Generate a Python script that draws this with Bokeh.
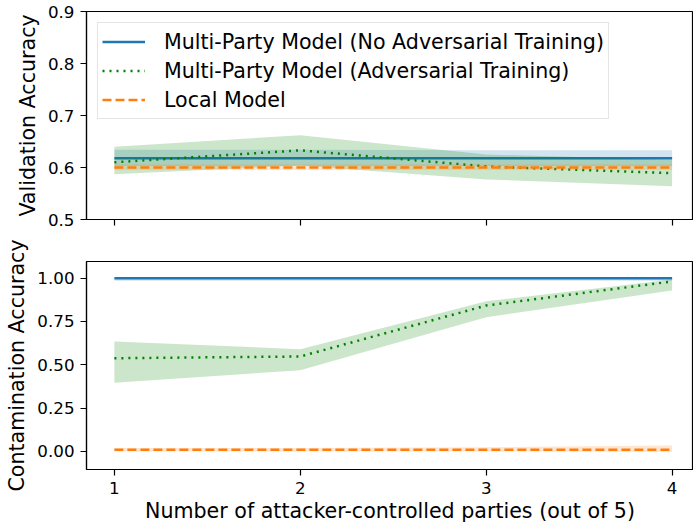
from bokeh.plotting import figure
from bokeh.layouts import column
from bokeh.models import Range1d, FixedTicker
from bokeh.embed import file_html
from bokeh.resources import INLINE

# ---- data ----
parties = [1, 2, 3, 4]
x_tick_labels = ["1", "2", "3", "4"]

series_names = ["Multi-Party Model (No Adversarial Training)",
                "Multi-Party Model (Adversarial Training)",
                "Local Model"]

# Validation accuracy
val_no_adv = [0.618, 0.618, 0.618, 0.618]
val_no_adv_lo = [0.603, 0.603, 0.603, 0.603]
val_no_adv_hi = [0.634, 0.634, 0.633, 0.633]
val_adv = [0.610, 0.633, 0.602, 0.589]
val_adv_lo = [0.587, 0.604, 0.577, 0.564]
val_adv_hi = [0.640, 0.662, 0.625, 0.615]
val_local = [0.600, 0.600, 0.600, 0.600]
val_local_lo = [0.595, 0.595, 0.595, 0.595]
val_local_hi = [0.606, 0.606, 0.606, 0.606]

# Contamination accuracy
con_no_adv = [1.000, 1.000, 1.000, 1.000]
con_no_adv_lo = [0.985, 0.985, 0.985, 0.985]
con_no_adv_hi = [1.000, 1.000, 1.000, 1.000]
con_adv = [0.538, 0.548, 0.842, 0.981]
con_adv_lo = [0.396, 0.469, 0.775, 0.929]
con_adv_hi = [0.635, 0.590, 0.867, 0.992]
con_local = [0.010, 0.010, 0.010, 0.010]
con_local_lo = [0.000, 0.000, 0.000, -0.003]
con_local_hi = [0.020, 0.020, 0.025, 0.035]

val_ticks = [0.5, 0.6, 0.7, 0.8, 0.9]
val_tick_labels = ["0.5", "0.6", "0.7", "0.8", "0.9"]
con_ticks = [0.0, 0.25, 0.5, 0.75, 1.0]
con_tick_labels = ["0.00", "0.25", "0.50", "0.75", "1.00"]

# ---- style ----
BLUE = "#1f77b4"
GREEN = "#008000"
ORANGE = "#ff7f0e"
FONT = "DejaVu Sans"
LW = 2.5


def style(p, ticks, labels, ylabel):
    p.outline_line_color = "black"
    p.outline_line_width = 1.2
    p.xgrid.visible = False
    p.ygrid.visible = False
    p.background_fill_color = "white"
    p.border_fill_color = "white"
    for ax in p.axis:
        ax.axis_line_width = 1.2
        ax.axis_line_color = "black"
        ax.major_tick_line_width = 1.2
        ax.major_tick_line_color = "black"
        ax.major_tick_out = 6
        ax.major_tick_in = 0
        ax.minor_tick_line_color = None
        ax.major_label_text_font = FONT
        ax.major_label_text_font_size = "16.7px"
        ax.major_label_text_color = "black"
        ax.major_label_standoff = 6
        ax.axis_label_text_font = FONT
        ax.axis_label_text_font_size = "20.6px"
        ax.axis_label_text_font_style = "normal"
        ax.axis_label_text_color = "black"
        ax.axis_label_standoff = 5
    p.xaxis.ticker = FixedTicker(ticks=parties)
    p.xaxis.major_label_overrides = {t: l for t, l in zip(parties, x_tick_labels)}
    p.yaxis.ticker = FixedTicker(ticks=ticks)
    p.yaxis.major_label_overrides = {t: l for t, l in zip(ticks, labels)}
    p.yaxis.axis_label = ylabel


def draw(p, data, legend):
    colors = [BLUE, GREEN, ORANGE]
    dashes = ["solid", "2 5", "9 4"]
    for (mid, lo, hi), c, d, name in zip(data, colors, dashes, series_names):
        p.varea(x=parties, y1=lo, y2=hi, fill_color=c, fill_alpha=0.2)
        kw = dict(legend_label=name) if legend else {}
        p.line(parties, mid, line_color=c, line_width=LW, line_dash=d, **kw)


p1 = figure(width=693, height=240, output_backend="svg", toolbar_location=None,
            x_range=Range1d(0.85, 4.115), y_range=Range1d(0.5, 0.9),
            min_border_left=86, min_border_right=0, min_border_top=11,
            min_border_bottom=21)
draw(p1, [(val_no_adv, val_no_adv_lo, val_no_adv_hi),
          (val_adv, val_adv_lo, val_adv_hi),
          (val_local, val_local_lo, val_local_hi)], True)
style(p1, val_ticks, val_tick_labels, "Validation Accuracy")
# shared x axis: ticks only, no labels on the upper panel
p1.xaxis.major_label_overrides = {t: "" for t in parties}
p1.xaxis.major_label_text_font_size = "1px"
p1.xaxis.major_label_standoff = 0

lg = p1.legend[0]
lg.location = "top_left"
lg.margin = 11
lg.padding = 4
lg.spacing = 0
lg.label_height = 29
lg.glyph_height = 29
lg.glyph_width = 43
lg.label_standoff = 19
lg.label_text_font = FONT
lg.label_text_font_size = "20.6px"
lg.label_text_color = "black"
lg.border_line_color = "#cccccc"
lg.border_line_width = 1
lg.background_fill_color = "white"
lg.background_fill_alpha = 0.8

p2 = figure(width=693, height=285, output_backend="svg", toolbar_location=None,
            x_range=Range1d(0.85, 4.115), y_range=Range1d(-0.104, 1.096),
            min_border_left=86, min_border_right=0, min_border_top=21,
            min_border_bottom=56)
draw(p2, [(con_no_adv, con_no_adv_lo, con_no_adv_hi),
          (con_adv, con_adv_lo, con_adv_hi),
          (con_local, con_local_lo, con_local_hi)], False)
style(p2, con_ticks, con_tick_labels, "Contamination Accuracy")
p2.xaxis.axis_label = "Number of attacker-controlled parties (out of 5)"
p2.xaxis.axis_label_standoff = 2

layout = column(p1, p2, spacing=0)
open("out.html", "w").write(file_html(layout, INLINE))
